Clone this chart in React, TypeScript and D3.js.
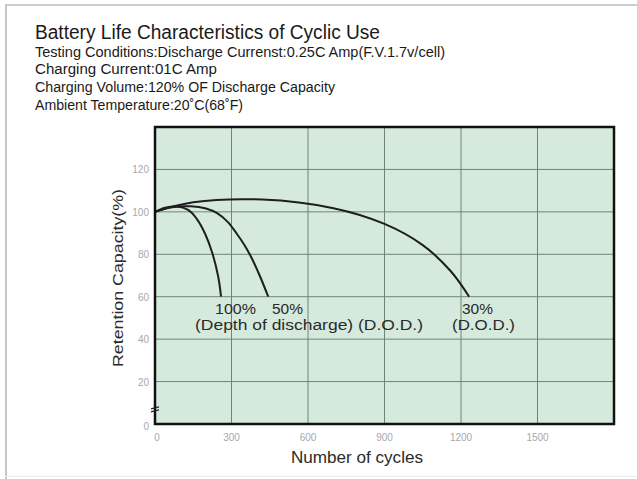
import * as d3 from 'd3';
import React from 'react';

// values
const dod100Cycles = [0, 40, 85, 130, 165, 196, 225, 248, 259];
const dod100Capacity = [100, 101.9, 102.5, 100.9, 96.5, 89.8, 80.5, 69.4, 60];

const dod50Cycles = [0, 60, 140, 200, 245, 285, 320, 350, 380, 415, 444];
const dod50Capacity = [100, 102, 102.6, 101.6, 99.3, 95.3, 89.8, 84.5, 78, 68.7, 60];

const dod30Cycles = [0, 150, 420, 700, 900, 1050, 1160, 1232];
const dod30Capacity = [100, 104.5, 105.8, 101.7, 94.3, 84.3, 72, 60];

const xTicks = [0, 300, 600, 900, 1200, 1500];
const yTicks = [0, 20, 40, 60, 80, 100, 120];

const subtitleLines = [
  'Testing Conditions:Discharge Currenst:0.25C Amp(F.V.1.7v/cell)',
  'Charging Current:01C Amp',
  'Charging Volume:120% OF Discharge Capacity',
  'Ambient Temperature:20˚C(68˚F)',
];
const subtitleWidths = [410, 182, 300, 208];

const font = '"Liberation Sans", Arial, Helvetica, sans-serif';

const App: React.FC = () => {
  const x = d3.scaleLinear().domain([0, 1800]).range([155, 614]);
  const y = d3.scaleLinear().domain([0, 140]).range([424, 127]);

  const line = d3.line<[number, number]>()
    .x(d => x(d[0]))
    .y(d => y(d[1]))
    .curve(d3.curveCatmullRom.alpha(0.5));

  const series = [
    d3.zip(dod100Cycles, dod100Capacity) as [number, number][],
    d3.zip(dod50Cycles, dod50Capacity) as [number, number][],
    d3.zip(dod30Cycles, dod30Capacity) as [number, number][],
  ];

  const [x0, x1] = x.range();
  const [yb, yt] = y.range();

  return (
    <svg width={637} height={479} style={{ position: 'absolute', left: 0, top: 0, background: '#fff' }}
      fontFamily={font}>
      {/* scanned frame */}
      <rect x={5} y={4} width={632} height={2} fill="#cdcdcd" />
      <rect x={5} y={4} width={2} height={475} fill="#c6c6c6" />
      <rect x={5} y={476} width={632} height={1} fill="#ececec" />

      <text x={35} y={38.5} fontSize={19.5} fill="#1a1a1a" textLength={345} lengthAdjust="spacingAndGlyphs">
        Battery Life Characteristics of Cyclic Use
      </text>
      {subtitleLines.map((t, i) => (
        <text key={i} x={35} y={56.5 + i * 17.8} fontSize={15.5} fill="#1a1a1a"
          textLength={subtitleWidths[i]} lengthAdjust="spacingAndGlyphs">{t}</text>
      ))}

      <rect x={x0} y={yt} width={x1 - x0} height={yb - yt} fill="#d5eadd" />
      {xTicks.filter(v => v > 0).map(v => (
        <line key={'gx' + v} x1={x(v)} x2={x(v)} y1={yt} y2={yb} stroke="#6f8575" strokeWidth={1} />
      ))}
      {yTicks.filter(v => v > 0).map(v => (
        <line key={'gy' + v} x1={x0} x2={x1} y1={y(v)} y2={y(v)} stroke="#6f8575" strokeWidth={1} />
      ))}

      {series.map((s, i) => (
        <path key={i} d={line(s) ?? ''} fill="none" stroke="#1e1e1e" strokeWidth={2} />
      ))}

      <rect x={x0} y={yt} width={x1 - x0} height={yb - yt} fill="none" stroke="#111" strokeWidth={2.5} />

      {/* axis break mark */}
      <line x1={x0 - 4} x2={x0 + 4} y1={y(7.6) + 1} y2={y(7.6) - 1} stroke="#222" strokeWidth={1.2} />
      <line x1={x0 - 4} x2={x0 + 4} y1={y(6.2) + 1} y2={y(6.2) - 1} stroke="#222" strokeWidth={1.2} />

      {yTicks.map(v => (
        <text key={'ty' + v} x={149} y={y(v) + (v === 0 ? 6 : 4)} fontSize={10} fill="#a8a8a8" textAnchor="end">{v}</text>
      ))}
      {xTicks.map(v => (
        <text key={'tx' + v} x={x(v) + (v === 0 ? 2 : 0)} y={441} fontSize={10} fill="#a8a8a8" textAnchor="middle">{v}</text>
      ))}

      <text x={215} y={314} fontSize={15.5} fill="#2a2a2a" textLength={41} lengthAdjust="spacingAndGlyphs">100%</text>
      <text x={272} y={314} fontSize={15.5} fill="#2a2a2a" textLength={31} lengthAdjust="spacingAndGlyphs">50%</text>
      <text x={195} y={330} fontSize={15.5} fill="#2a2a2a" textLength={228} lengthAdjust="spacingAndGlyphs">
        (Depth of discharge) (D.O.D.)
      </text>
      <text x={462} y={314} fontSize={15.5} fill="#2a2a2a" textLength={31} lengthAdjust="spacingAndGlyphs">30%</text>
      <text x={452} y={330} fontSize={15.5} fill="#2a2a2a" textLength={63} lengthAdjust="spacingAndGlyphs">(D.O.D.)</text>

      <text transform="translate(123,278) rotate(-90)" fontSize={15.5} fill="#2a2a2a" textAnchor="middle"
        textLength={178} lengthAdjust="spacingAndGlyphs">Retention Capacity(%)</text>
      <text x={291} y={463} fontSize={16} fill="#2a2a2a" textLength={132} lengthAdjust="spacingAndGlyphs">
        Number of cycles
      </text>
    </svg>
  );
};

export default App;
